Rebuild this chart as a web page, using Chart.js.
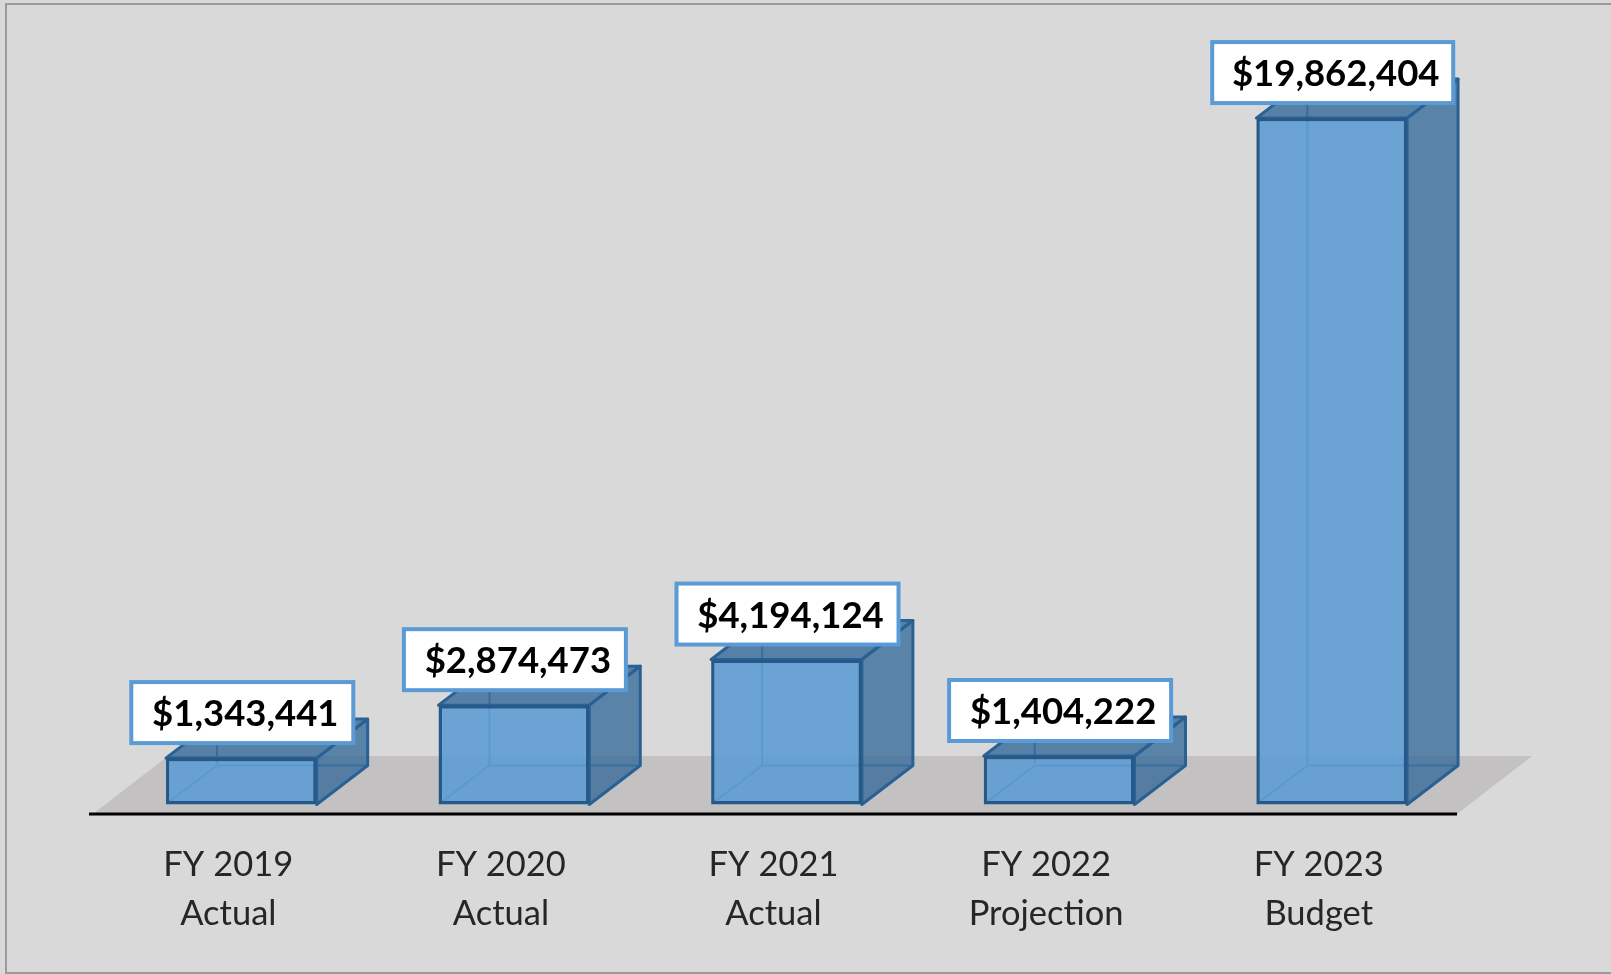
<!DOCTYPE html>
<html>
<head>
<meta charset="utf-8">
<title>Budget by fiscal year</title>
<script src="https://cdn.jsdelivr.net/npm/chart.js@4"></script>
<style>
  html, body { margin: 0; padding: 0; background: #d9d9d9; overflow: hidden; }
  canvas { display: block; }
</style>
</head>
<body>
<canvas id="barchart" width="1611" height="974"></canvas>
<script>
var fiscalYears = ['FY 2019', 'FY 2020', 'FY 2021', 'FY 2022', 'FY 2023'];
var stages = ['Actual', 'Actual', 'Actual', 'Projection', 'Budget'];
var amounts = [1343441, 2874473, 4194124, 1404222, 19862404];

var categories = fiscalYears.map(function (fy, i) { return [fy, stages[i]]; });

// how far the fake 3d box goes back
var depthX = 51;
var depthY = 39;

function poly(c, pts, fill, stroke, width) {
    c.beginPath();
    pts.forEach(function (p, i) {
        if (i === 0) c.moveTo(p[0], p[1]); else c.lineTo(p[0], p[1]);
    });
    c.closePath();
    if (fill) { c.fillStyle = fill; c.fill(); }
    if (stroke) { c.strokeStyle = stroke; c.lineWidth = width; c.lineJoin = 'round'; c.stroke(); }
}

var box3d = {
    id: 'box3d',
    beforeDraw: function (chart) {
        var c = chart.ctx;
        c.save();
        c.fillStyle = '#d9d9d9';
        c.fillRect(0, 0, chart.width, chart.height);
        c.fillStyle = '#9a9a9a';
        c.fillRect(5, 3, chart.width - 5, 2);
        c.fillRect(5, 3, 2, chart.height - 5);
        c.fillRect(5, chart.height - 2, chart.width - 5, 2);
        c.restore();
    },
    beforeDatasetsDraw: function (chart) {
        var c = chart.ctx;
        var a = chart.chartArea;
        c.save();
        // floor
        poly(c, [[a.left - 12, a.bottom], [a.left + 63, a.bottom - 58],
                 [a.right + 64, a.bottom - 58], [a.right - 11, a.bottom]], '#c3c1c1');
        // axis line
        c.fillStyle = '#000';
        c.fillRect(a.left - 16, a.bottom - 1.5, a.right - a.left + 5, 3);

        chart.getDatasetMeta(0).data.forEach(function (bar) {
            var l = bar.x - bar.width / 2, r = bar.x + bar.width / 2;
            var t = bar.y, b = bar.base;
            // inside edges seen through the box
            c.strokeStyle = '#5086b8';
            c.lineWidth = 2;
            c.beginPath();
            c.moveTo(l + 1, b - 1);
            c.lineTo(l + depthX, b - depthY);
            c.lineTo(r + depthX, b - depthY);
            c.moveTo(l + depthX, b - depthY);
            c.lineTo(l + depthX, t - depthY);
            c.stroke();
            // top
            poly(c, [[l, t], [l + depthX, t - depthY], [r + depthX, t - depthY], [r, t]],
                 'rgba(46,100,150,0.76)', '#2a6195', 3);
            // side
            poly(c, [[r, t], [r + depthX, t - depthY], [r + depthX, b - depthY], [r, b]],
                 'rgba(50,104,152,0.76)', '#2a6195', 3);
        });
        c.restore();
    },
    afterDatasetsDraw: function (chart) {
        var c = chart.ctx;
        c.save();
        c.font = 'bold 36.5px Lato';
        c.textAlign = 'center';
        c.textBaseline = 'middle';
        chart.getDatasetMeta(0).data.forEach(function (bar, i) {
            var w = i === 4 ? 241 : 222;
            var h = 61;
            var x = bar.x - w / 2 + 1;
            var y = bar.y - 15 - h;
            c.fillStyle = '#fff';
            c.fillRect(x, y, w, h);
            c.strokeStyle = '#5b9bd5';
            c.lineWidth = 4;
            c.strokeRect(x, y, w, h);
            c.fillStyle = '#000';
            c.fillText('$' + amounts[i].toLocaleString('en-US'), bar.x + 4, y + h / 2 + 2);
        });
        c.restore();
    }
};

var ctx = document.getElementById('barchart').getContext('2d');
// turns off the Lato "ti" ligature, the reference font has none
ctx.textRendering = 'optimizeSpeed';
ctx.letterSpacing = '0.4px';
var myChart = new Chart(ctx, {
    type: 'bar',
    data: {
        labels: categories,
        datasets: [{
            label: 'Amount',
            data: amounts,
            backgroundColor: 'rgba(91,155,213,0.87)',
            borderColor: '#24598a',
            borderWidth: 3.5,
            borderSkipped: false,
            categoryPercentage: 1,
            barPercentage: 0.553
        }]
    },
    options: {
        responsive: false,
        animation: false,
        layout: {
            padding: { left: 105, right: 143, top: 20, bottom: 10 }
        },
        plugins: {
            legend: { display: false },
            tooltip: { enabled: false },
            title: { display: false }
        },
        scales: {
            x: {
                grid: { display: false, drawTicks: false },
                border: { display: false },
                ticks: {
                    color: '#262626',
                    font: { family: 'Lato', size: 34.5, lineHeight: 1.42 },
                    padding: 26,
                    labelOffset: -13,
                    maxRotation: 0,
                    autoSkip: false
                }
            },
            y: {
                display: false,
                min: -275000,
                max: 22700000
            }
        }
    },
    plugins: [box3d]
});
</script>
</body>
</html>
